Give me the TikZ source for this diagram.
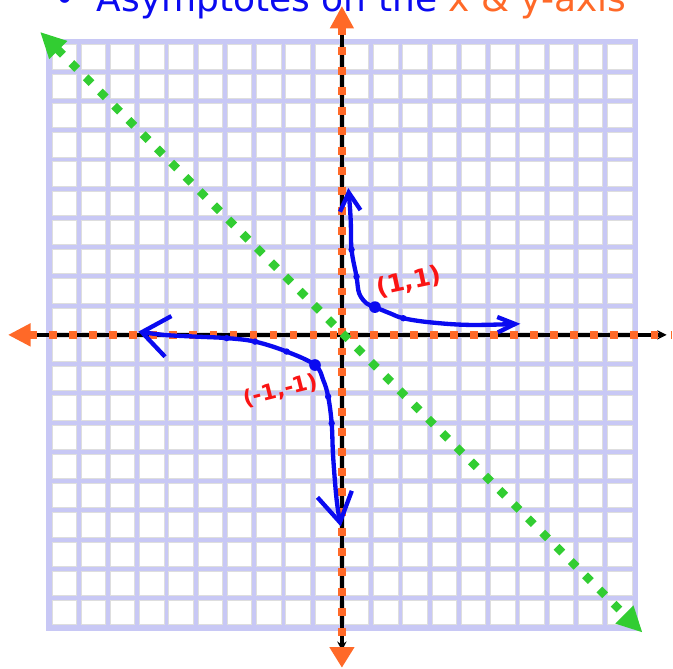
\documentclass[tikz,border=0pt]{standalone}
\usepackage{fontspec}
\setmainfont{DejaVu Sans}
\usetikzlibrary{arrows.meta,calc}
\definecolor{gridlav}{RGB}{200,200,245}
\definecolor{asymorange}{RGB}{255,105,40}
\definecolor{asymgreen}{RGB}{50,205,50}
\definecolor{hypblue}{RGB}{10,10,240}
\definecolor{notered}{RGB}{250,20,20}

\begin{document}
\begin{tikzpicture}[x=1cm,y=1cm,
    gridcell/.style={fill=white, draw=black!13, line width=0.8pt},
    axisline/.style={line width=4pt, black},
    asymline/.style={line width=7.5pt, asymorange, dash pattern=on 7.5pt off 12pt},
    diagline/.style={line width=8pt, asymgreen, dash pattern=on 8pt off 11.6pt},
    branch/.style={line width=4.2pt, hypblue, line cap=round, line join=round},
    every node/.style={inner sep=0pt}]
    \useasboundingbox (-11.69,-11.42) rectangle (11.32,11.45);
    \clip (-11.69,-11.42) rectangle (11.32,11.45);
    \node[anchor=base west, text=hypblue, font=\fontsize{35}{40}\selectfont] (title) at (-9.85,11.05) {\textbullet\hspace{0.6em}Asymptotes on the \textcolor{asymorange}{x \& y-axis}};
    \fill[gridlav] (-10.11,-10.11) rectangle (10.11,10.11);
    \foreach \i in {-10,...,9}
        \foreach \j in {-10,...,9}
            \filldraw[gridcell] (\i+0.085,\j+0.085) rectangle (\i+0.915,\j+0.915);
    \draw[axisline, -{Stealth[length=9pt,width=9pt]}] (-10.6,0) -- (11.1,0);
    \draw[axisline, -{Stealth[length=9pt,width=9pt]}] (0,10.53) -- (0,-10.8);
    \draw[asymline, {Triangle[length=22pt,width=21pt]}-] (-11.42,0) -- (11.25,0);
    \draw[asymline, {Triangle[length=22pt,width=22pt]}-{Triangle[length=20pt,width=23pt]}] (0,11.25) -- (0,-11.38);
    \draw[diagline, {Triangle[length=25pt,width=23pt]}-{Triangle[length=25pt,width=23pt]}] (-10.32,10.36) -- (10.28,-10.18);
    \draw[branch, {Straight Barb[length=18pt,width=20pt]}-{Straight Barb[length=17pt,width=15pt]}] plot[smooth, tension=0.6] coordinates {(0.22,5.02) (0.30,3.93) (0.33,2.91) (0.50,1.99) (0.59,1.42) (0.84,1.08) (1.13,0.95) (1.64,0.74) (2.10,0.57) (3.01,0.43) (4.38,0.34) (6.1,0.38)};
    \draw[branch, {Straight Barb[length=26pt,width=40pt]}-{Straight Barb[length=28pt,width=34pt]}] plot[smooth, tension=0.6] coordinates {(-6.96,0.11) (-6.11,0) (-4.97,-0.06) (-3.94,-0.11) (-2.97,-0.23) (-1.89,-0.57) (-0.92,-1.03) (-0.64,-1.54) (-0.47,-2.11) (-0.35,-3.02) (-0.30,-4.16) (-0.18,-5.64) (-0.04,-6.55)};
    \fill[hypblue] (1.13,0.95) circle (0.2);
    \fill[hypblue] (-0.92,-1.03) circle (0.2);
    \foreach \p in {(0.33,2.91),(0.50,1.99),(2.10,0.57),(-3.94,-0.11),(-2.97,-0.23),(-1.89,-0.57),(-0.47,-2.11),(-0.35,-3.02)}
        \fill[hypblue] \p circle (0.11);
    \node[text=notered, font=\fontsize{24}{28}\selectfont\bfseries, rotate=12] (ptA) at (2.29,1.81) {(1,1)};
    \node[text=notered, font=\fontsize{21}{25}\selectfont\bfseries, rotate=14] (ptB) at (-2.1,-1.9) {(-1,-1)};
\end{tikzpicture}
\end{document}
